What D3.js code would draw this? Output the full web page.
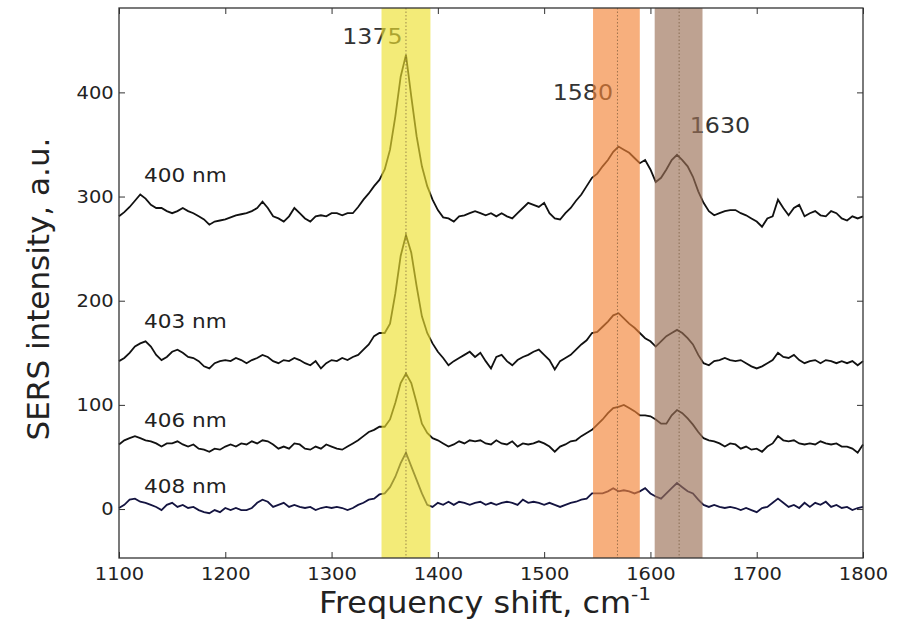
<!DOCTYPE html>
<html>
<head>
<meta charset="utf-8">
<script src="https://cdn.jsdelivr.net/npm/d3@7"></script>
<style>
  body { margin: 0; background: #fff; }
  svg text { font-family: "DejaVu Sans", sans-serif; fill: #222; }
</style>
</head>
<body>
<svg id="chart" width="900" height="623"></svg>
<script>
// frequency shift, cm-1 (every 5 from 1100 to 1800), rows of 50 cm-1
var shifts = d3.range(1100, 1801, 5);

var series400 = [
  281,285,290,296,302,298,292,289,289,286,
  284,286,289,286,284,281,278,273,276,277,
  278,280,282,283,284,286,289,295,289,281,
  279,276,281,289,284,279,276,281,282,281,
  284,284,282,284,284,290,297,303,310,316,
  326,345,377,415,436,396,358,329,310,297,
  287,280,279,276,281,282,284,286,284,282,
  284,281,284,281,279,284,289,294,292,290,
  294,284,279,278,284,289,296,302,310,318,
  322,329,335,343,348,345,342,337,332,335,
  326,314,318,326,335,340,335,329,319,305,
  294,286,282,284,286,287,287,284,282,279,
  276,271,279,281,297,289,282,289,292,281,
  284,286,282,281,286,284,279,277,281,279,
  281];

var series403 = [
  142,145,150,156,159,161,156,148,143,146,
  151,153,150,146,145,142,137,135,140,142,
  143,142,145,143,140,143,145,148,146,142,
  140,143,142,145,143,140,138,142,135,140,
  143,142,145,143,146,148,153,158,166,169,
  169,178,207,243,263,246,214,185,169,159,
  151,145,138,142,145,148,151,146,150,142,
  135,146,148,142,138,143,146,148,151,153,
  148,143,134,142,145,148,153,158,162,169,
  170,175,180,186,188,183,178,174,169,164,
  161,156,161,166,169,172,169,164,158,148,
  140,138,142,143,145,143,142,143,140,137,
  135,137,140,143,150,146,145,148,143,140,
  142,143,140,143,142,140,142,140,142,138,
  142];

var series406 = [
  62,66,68,70,68,66,65,63,60,63,
  63,65,62,60,62,58,57,55,58,57,
  60,62,60,63,62,65,63,66,65,62,
  58,60,58,63,62,58,57,60,58,62,
  60,58,57,60,63,66,70,74,76,79,
  79,86,102,121,130,121,102,82,73,68,
  66,63,60,62,65,63,66,65,66,63,
  62,66,63,62,65,60,63,62,63,65,
  63,60,55,60,62,65,66,70,73,76,
  81,86,92,97,98,100,97,94,90,90,
  89,86,82,82,90,95,92,87,81,74,
  68,66,65,63,60,63,62,58,60,57,
  58,55,60,63,70,66,65,66,63,62,
  63,62,65,63,62,63,60,60,58,54,
  62];

var series408 = [
  1,4,9,10,7,6,4,2,-1,4,
  6,2,4,1,2,-1,-3,-4,-1,-3,
  1,-1,1,-1,-1,1,6,9,7,2,
  4,6,2,4,2,1,2,-1,1,2,
  1,2,1,-1,1,4,6,9,10,14,
  15,21,31,44,54,41,28,15,4,2,
  6,4,7,4,7,6,4,6,7,4,
  6,4,6,7,6,4,9,6,7,6,
  4,6,4,2,4,6,7,9,10,15,
  15,15,17,20,17,18,17,15,17,20,
  15,12,10,15,20,25,21,17,15,9,
  4,2,4,2,1,2,1,-1,1,-1,
  -3,1,2,6,10,6,2,4,1,6,
  2,6,4,7,2,4,1,2,-1,1,
  2];

var seriesNames = ["400 nm", "403 nm", "406 nm", "408 nm"];
var seriesValues = [series400, series403, series406, series408];
var seriesColors = ["#111111", "#111111", "#111111", "#141440"];

// highlighted Raman bands
var bandLabels = ["1375", "1580", "1630"];
var bandFrom = [1347, 1546, 1604];
var bandTo = [1393, 1590, 1649];
var bandCenter = [1370, 1569, 1627];
var bandColors = ["#ece02f", "#f38437", "#9b7056"];

var xTicks = [1100, 1200, 1300, 1400, 1500, 1600, 1700, 1800];
var yTicks = [0, 100, 200, 300, 400];

var margin = {left: 119, right: 37, top: 8, bottom: 65};
var width = 900 - margin.left - margin.right;
var height = 623 - margin.top - margin.bottom;
var stretch = 'scale(1.08,1)';  // the original image is a bit wider than tall

var svg = d3.select('#chart');
var g = svg.append('g').attr('transform', 'translate(' + margin.left + ',' + margin.top + ')');

var x = d3.scaleLinear().domain([1100, 1800]).range([0, width]);
var y = d3.scaleLinear().domain([-47, 481]).range([height, 0]);

// spectra
var line = d3.line()
  .x(function(d, i) { return x(shifts[i]); })
  .y(function(d) { return y(d); });

g.selectAll('path.spectrum')
  .data(seriesValues)
  .enter()
  .append('path')
  .classed('spectrum', true)
  .attr('d', line)
  .style('fill', 'none')
  .style('stroke', function(d, i) { return seriesColors[i]; })
  .style('stroke-width', 1.8)
  .style('stroke-linejoin', 'miter');

// series labels
var labelAt = [314, 174, 79, 15];
g.selectAll('text.series-label')
  .data(seriesNames)
  .enter()
  .append('text')
  .classed('series-label', true)
  .attr('transform', function(d, i) {
    return 'translate(' + x(1123.5) + ',' + y(labelAt[i]) + ') ' + stretch;
  })
  .style('font-size', '20px')
  .text(function(d) { return d; });

// band labels (drawn under the bands)
var bandLabelX = [1310, 1508, 1637];
var bandLabelY = [446, 393, 361];
g.selectAll('text.band-label')
  .data(bandLabels)
  .enter()
  .append('text')
  .classed('band-label', true)
  .attr('transform', function(d, i) {
    return 'translate(' + x(bandLabelX[i]) + ',' + y(bandLabelY[i]) + ') ' + stretch;
  })
  .style('font-size', '22px')
  .style('fill', '#333')
  .text(function(d) { return d; });

// bands
g.selectAll('rect.band')
  .data(bandLabels)
  .enter()
  .append('rect')
  .classed('band', true)
  .attr('x', function(d, i) { return x(bandFrom[i]); })
  .attr('width', function(d, i) { return x(bandTo[i]) - x(bandFrom[i]); })
  .attr('y', 0)
  .attr('height', height)
  .style('fill', function(d, i) { return bandColors[i]; })
  .style('opacity', 0.65);

g.selectAll('line.center')
  .data(bandCenter)
  .enter()
  .append('line')
  .classed('center', true)
  .attr('x1', function(d) { return x(d); })
  .attr('x2', function(d) { return x(d); })
  .attr('y1', 0)
  .attr('y2', height)
  .style('stroke', '#6a5030')
  .style('stroke-opacity', 0.7)
  .style('stroke-width', 0.9)
  .style('stroke-dasharray', '1.5,2');

// axes, ticks inward on all four sides
var tickLen = 6;
var xBottom = g.append('g').attr('transform', 'translate(0,' + height + ')')
  .call(d3.axisBottom(x).tickValues(xTicks).tickSizeInner(-tickLen).tickSizeOuter(0).tickPadding(9).tickFormat(d3.format('d')));
var xTop = g.append('g')
  .call(d3.axisTop(x).tickValues(xTicks).tickSizeInner(-tickLen).tickSizeOuter(0).tickFormat(''));
var yLeft = g.append('g')
  .call(d3.axisLeft(y).tickValues(yTicks).tickSizeInner(-tickLen).tickSizeOuter(0).tickPadding(5).tickFormat(d3.format('d')));
var yRight = g.append('g').attr('transform', 'translate(' + width + ',0)')
  .call(d3.axisRight(y).tickValues(yTicks).tickSizeInner(-tickLen).tickSizeOuter(0).tickFormat(''));

[xBottom, xTop, yLeft, yRight].forEach(function(a) {
  a.select('.domain').remove();
  a.selectAll('.tick line').style('stroke', '#333').style('stroke-width', 1);
  a.selectAll('.tick text').style('font-size', '18px').style('fill', '#222')
    .style('font-family', '"DejaVu Sans", sans-serif')
    .attr('transform', stretch);
});

g.append('rect')
  .attr('width', width)
  .attr('height', height)
  .style('fill', 'none')
  .style('stroke', '#333')
  .style('stroke-width', 1.3);

// axis titles
var xt = svg.append('text')
  .attr('transform', 'translate(485,613) ' + stretch)
  .attr('text-anchor', 'middle')
  .style('font-size', '29.5px');
xt.append('tspan').text('Frequency shift, cm');
xt.append('tspan').attr('dy', -13).style('font-size', '18.5px').text('-1');

svg.append('text')
  .attr('transform', 'translate(49,289) rotate(-90)')
  .attr('text-anchor', 'middle')
  .style('font-size', '31px')
  .text('SERS intensity, a.u.');
</script>
</body>
</html>
